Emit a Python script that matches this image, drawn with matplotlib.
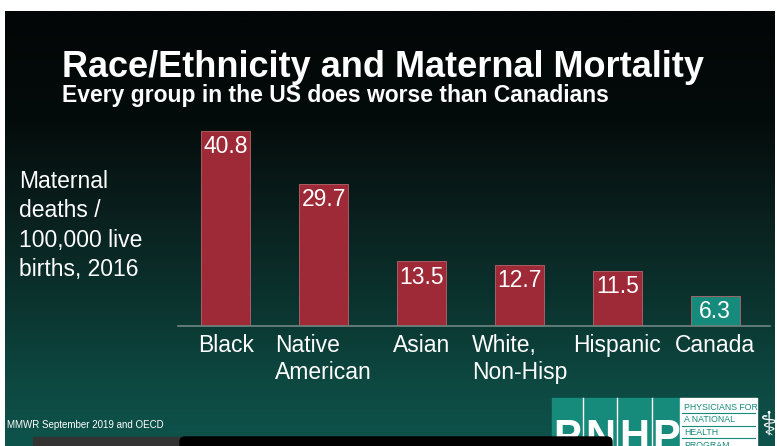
"""Race/Ethnicity and Maternal Mortality - slide recreation."""
import numpy as np
import matplotlib
matplotlib.use('Agg')
import matplotlib.pyplot as plt
from matplotlib.patches import Rectangle, FancyBboxPatch

plt.rcParams['font.family'] = ['Liberation Sans', 'DejaVu Sans']

W, H, DPI = 777, 446, 100

groups = ['Black', 'Native\nAmerican', 'Asian', 'White,\nNon-Hisp', 'Hispanic', 'Canada']
rates = [40.8, 29.7, 13.5, 12.7, 11.5, 6.3]
value_labels = ['40.8', '29.7', '13.5', '12.7', '11.5', '6.3']
is_canada = [False, False, False, False, False, True]

RED = '#9e2937'
TEAL = '#168a7b'


def px(x, y):
    """pixel (from top-left) -> figure fraction"""
    return x / W, 1 - y / H


def main():
    fig = plt.figure(figsize=(W / DPI, H / DPI), dpi=DPI, facecolor='white')

    # ── background gradient (pixel coords) ──
    bg = fig.add_axes([0, 0, 1, 1])
    bg.set_xlim(0, W)
    bg.set_ylim(H, 0)
    bg.axis('off')
    ys = np.arange(H)
    stop_y = [11, 110, 200, 300, 380, 446]
    stop_c = np.array([[3, 6, 6], [4, 12, 11], [9, 30, 28],
                       [11, 52, 47], [13, 72, 65], [14, 84, 76]]) / 255
    grad = np.stack([np.interp(ys, stop_y, stop_c[:, k]) for k in range(3)], axis=-1)
    img = np.repeat(grad[:, None, :], 2, axis=1)
    bg.imshow(img, extent=(5, W - 2, H, 11), aspect='auto', zorder=0)

    # titles
    bg.text(62, 77, 'Race/Ethnicity and Maternal Mortality', color='white',
            fontsize=26, fontweight='bold', ha='left', va='baseline')
    bg.text(62, 102, 'Every group in the US does worse than Canadians',
            color='white', fontsize=16.5, fontweight='bold', ha='left',
            va='baseline')
    bg.text(19, 170, 'Maternal\ndeaths /\n100,000 live\nbirths, 2016',
            color='white', fontsize=16.5, ha='left', va='top', linespacing=1.35)
    bg.text(7, 428, 'MMWR September 2019 and OECD', color='white',
            fontsize=7, ha='left', va='baseline')

    # logo
    bg.add_patch(Rectangle((552, 398), 128, 50, color=TEAL, zorder=2))
    for xl in (583, 617, 652):
        bg.plot([xl, xl], [398, 446], color='white', lw=1, zorder=3)
    for xc, ch in zip((567, 600, 634, 666), 'PNHP'):
        bg.text(xc, 418, ch, color='white', fontsize=30, fontweight='bold',
                ha='center', va='top', zorder=3, clip_on=True)
    bg.add_patch(Rectangle((680, 398), 77, 50, color='white', zorder=2))
    for i, t in enumerate(['PHYSICIANS FOR', 'A NATIONAL', 'HEALTH', 'PROGRAM']):
        bg.text(684, 410 + i * 12.5, t, color=TEAL, fontsize=6.3,
                ha='left', va='baseline', zorder=3)
        if i < 3:
            bg.plot([682, 755], [413 + i * 12.5] * 2, color=TEAL, lw=0.8, zorder=3)
    bg.text(769, 425, '\u2695', color='white', fontsize=24, ha='center',
            va='center', family='DejaVu Sans', zorder=3)

    # video overlay bars at the bottom
    bg.add_patch(Rectangle((33, 437), 147, 12, color='#333333', zorder=4))
    bg.add_patch(FancyBboxPatch((180, 437), 432, 14,
                                boxstyle='round,pad=0,rounding_size=5',
                                color='black', zorder=5))

    # ── bar chart ──
    x0, y0 = px(178, 326)
    x1, y1 = px(770, 120)
    ax = fig.add_axes([x0, y0, x1 - x0, y1 - y0])
    ax.patch.set_alpha(0)
    xs = np.arange(len(groups))
    colors = [TEAL if c else RED for c in is_canada]
    ax.bar(xs, rates, width=0.5, color=colors, edgecolor='#b9646e',
           linewidth=0.6, zorder=2)
    for xi, v, lab in zip(xs, rates, value_labels):
        ax.annotate(lab, (xi, v), xytext=(0, -3), textcoords='offset points',
                    ha='center', va='top', color='white', fontsize=16.5)
    ax.set_xlim(-0.49, 5.56)
    ax.set_ylim(0, (326 - 120) / 4.78)
    ax.axhline(0, color='#6f8582', lw=1.2, zorder=3, clip_on=False)
    for s in ax.spines.values():
        s.set_visible(False)
    ax.set_yticks([])
    ax.set_xticks(xs)
    ax.set_xticklabels(groups, color='white', fontsize=16.5,
                       multialignment='left', linespacing=1.2)
    ax.tick_params(axis='x', length=0, pad=6)

    fig.savefig('out.png', dpi=DPI, facecolor='white')
    plt.close(fig)


if __name__ == '__main__':
    main()
